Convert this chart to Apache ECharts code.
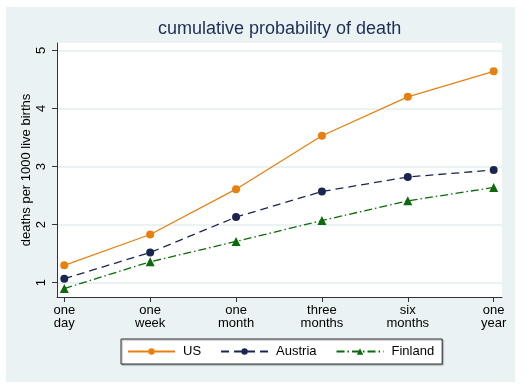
<!DOCTYPE html>
<html>
<head>
<meta charset="utf-8">
<script src="https://cdn.jsdelivr.net/npm/echarts@6/dist/echarts.min.js"></script>
<style>html,body{margin:0;padding:0;background:#fff}#c{width:529px;height:387px}</style>
</head>
<body>
<div id="c"></div>
<script>
var categories = ['one\nday', 'one\nweek', 'one\nmonth', 'three\nmonths', 'six\nmonths', 'one\nyear'];
var usValues = [1.30, 1.83, 2.61, 3.53, 4.20, 4.64];
var austriaValues = [1.07, 1.52, 2.13, 2.57, 2.82, 2.94];
var finlandValues = [0.90, 1.36, 1.71, 2.07, 2.41, 2.64];
var yTicks = [1, 2, 3, 4, 5];

function pairs(vals) { return vals.map(function (v, i) { return [i, v]; }); }
var xTicks = categories.map(function (c, i) { return i; });
var font = 'Liberation Sans, Arial, sans-serif';

var chart = echarts.init(document.getElementById('c'), null, {renderer: 'canvas'});
chart.setOption({
  backgroundColor: '#ffffff',
  animation: false,
  graphic: [{
    type: 'rect', z: -10, silent: true,
    shape: {x: 6, y: 7, width: 509, height: 375},
    style: {fill: '#eaf2f3'}
  }, {
    type: 'text', z: 10, silent: true,
    left: 158, top: 20,
    style: {text: 'cumulative probability of death', fontFamily: font, fontSize: 18, fill: '#1e2d53'}
  }],
  grid: {
    left: 57, right: 27, top: 43, bottom: 90,
    show: true, backgroundColor: '#ffffff', borderWidth: 0
  },
  legend: {
    data: ['US', 'Austria', 'Finland'],
    left: 121, top: 339, height: 24,
    padding: [6, 8, 6, 6],
    itemWidth: 47, itemHeight: 8, itemGap: 19,
    backgroundColor: '#ffffff', borderColor: '#333333', borderWidth: 1,
    shadowColor: 'rgba(0,0,0,0.35)', shadowOffsetX: 1, shadowOffsetY: 1, shadowBlur: 1,
    textStyle: {fontFamily: font, fontSize: 13, color: '#000', padding: [0, 0, 0, 3]}
  },
  xAxis: {
    type: 'value', min: -0.085, max: 5.097,
    axisLine: {show: true, onZero: false, lineStyle: {color: '#333', width: 1}},
    axisTick: {show: true, length: 5, customValues: xTicks, lineStyle: {color: '#333'}},
    axisLabel: {
      customValues: xTicks, margin: 7,
      fontFamily: font, fontSize: 13, color: '#000', lineHeight: 13,
      formatter: function (v) { return categories[Math.round(v)]; }
    },
    splitLine: {show: false}
  },
  yAxis: {
    type: 'value', min: 0.754, max: 5.127,
    name: 'deaths per 1000 live births', nameLocation: 'middle', nameRotate: 90, nameGap: 24,
    nameMoveOverlap: false,
    nameTextStyle: {fontFamily: font, fontSize: 13, color: '#000'},
    axisLine: {show: true, onZero: false, lineStyle: {color: '#333', width: 1}},
    axisTick: {show: true, length: 5, customValues: yTicks, lineStyle: {color: '#333'}},
    axisLabel: {customValues: yTicks, rotate: 90, margin: 9, fontFamily: font, fontSize: 13, color: '#000'},
    splitLine: {show: true, lineStyle: {color: '#eaf2f3', width: 2}}
  },
  series: [
    {
      name: 'US', type: 'line', data: pairs(usValues),
      symbol: 'circle', symbolSize: 8,
      lineStyle: {color: '#e8800f', width: 1.3, type: 'solid'},
      itemStyle: {color: '#e8800f'}
    },
    {
      name: 'Austria', type: 'line', data: pairs(austriaValues),
      symbol: 'circle', symbolSize: 8,
      lineStyle: {color: '#1b2650', width: 1.3, type: [8, 5]},
      itemStyle: {color: '#1b2650'}
    },
    {
      name: 'Finland', type: 'line', data: pairs(finlandValues),
      symbol: 'triangle', symbolSize: 9,
      lineStyle: {color: '#0b6a0b', width: 1.3, type: [8, 3, 1.5, 3]},
      itemStyle: {color: '#0b6a0b'}
    }
  ]
});
</script>
</body>
</html>
